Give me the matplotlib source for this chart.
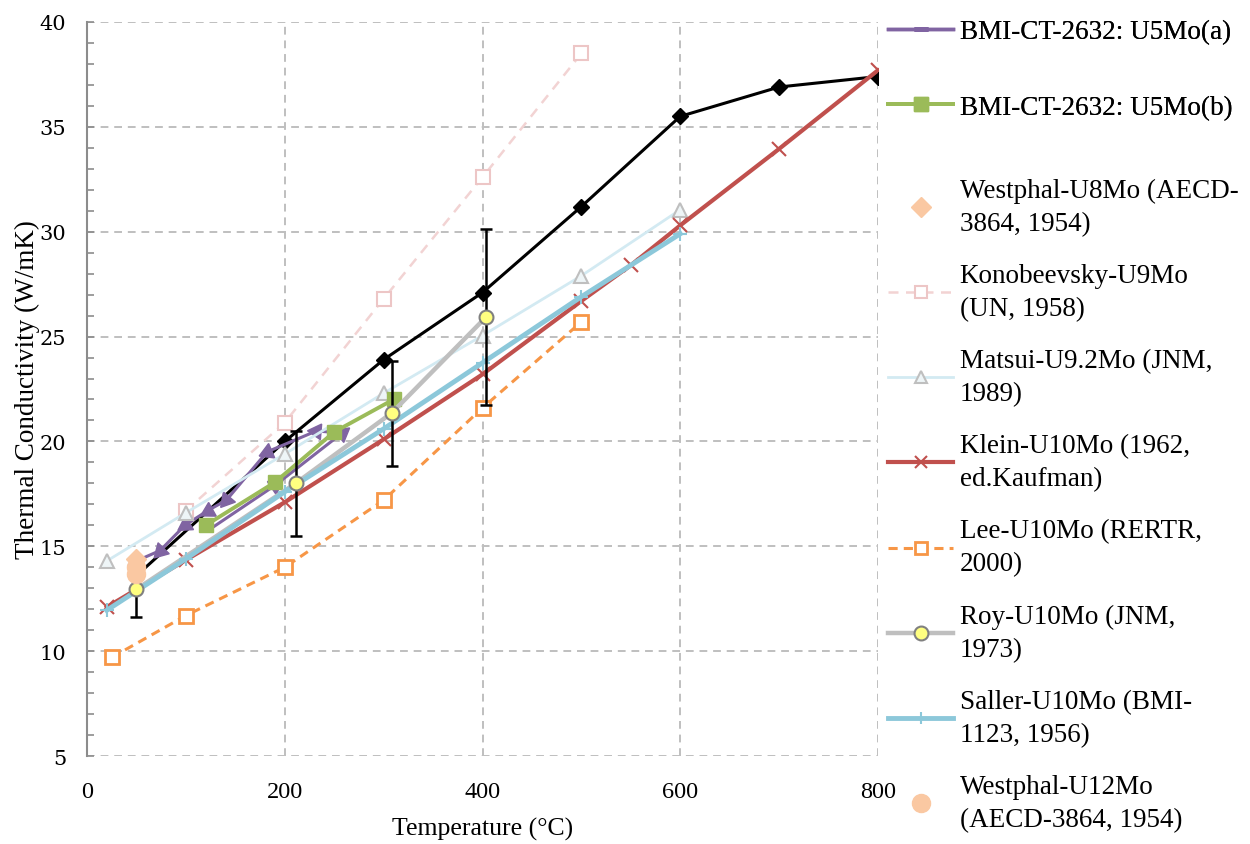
import numpy as np
import matplotlib.pyplot as plt
from matplotlib.lines import Line2D
from matplotlib.ticker import MultipleLocator

# ---- data ----
temp_ref = [50, 200, 300, 400, 500, 600, 700, 800]
k_ref = [13.6, 20.0, 23.9, 27.1, 31.2, 35.5, 36.9, 37.4]

temp_u5a = [127, 190, 258, 232, 182, 141, 122, 99, 74, 50]
k_u5a = [15.9, 17.9, 20.4, 20.5, 19.5, 17.2, 16.7, 16.0, 14.8, 14.3]

temp_u5b = [120, 190, 250, 310]
k_u5b = [16.0, 18.05, 20.45, 22.0]

temp_w8 = [50]
k_w8 = [14.4]

temp_kono = [100, 200, 300, 400, 500]
k_kono = [16.7, 20.9, 26.8, 32.6, 38.5]

temp_matsui = [20, 100, 200, 300, 400, 500, 600]
k_matsui = [14.3, 16.6, 19.4, 22.3, 25.05, 27.9, 31.05]

temp_klein = [20, 100, 200, 300, 400, 500, 550, 600, 700, 800]
k_klein = [12.1, 14.35, 17.1, 20.1, 23.2, 26.7, 28.4, 30.3, 33.95, 37.7]

temp_lee = [25, 100, 200, 300, 400, 500]
k_lee = [9.7, 11.7, 14.0, 17.2, 21.6, 25.7]

temp_roy = [50, 211, 308, 404]
k_roy = [12.95, 18.0, 21.35, 25.95]
err_roy = [1.3, 2.5, 2.5, 4.2]

temp_saller = [20, 100, 200, 300, 400, 500, 600]
k_saller = [11.95, 14.4, 17.6, 20.6, 23.75, 26.9, 29.9]

temp_w12 = [50, 50]
k_w12 = [14.0, 13.7]

labels = ['BMI-CT-2632: U5Mo(a)',
          'BMI-CT-2632: U5Mo(b)',
          'Westphal-U8Mo (AECD-\n3864, 1954)',
          'Konobeevsky-U9Mo\n(UN, 1958)',
          'Matsui-U9.2Mo (JNM,\n1989)',
          'Klein-U10Mo (1962,\ned.Kaufman)',
          'Lee-U10Mo (RERTR,\n2000)',
          'Roy-U10Mo (JNM,\n1973)',
          'Saller-U10Mo (BMI-\n1123, 1956)',
          'Westphal-U12Mo\n(AECD-3864, 1954)']

purple = '#8064A2'
green = '#9BBB59'
peach = '#FAC8A2'
pink = '#F2D3D3'
pale_blue = '#D3EAF2'
red = '#C0504D'
orange = '#F79646'
grey = '#BFBFBF'
blue = '#8CC8DA'

serif = 'Liberation Serif'

fig = plt.figure(figsize=(12.5, 8.45), dpi=100)
ax = fig.add_axes([0.0696, 0.1041, 0.6328, 0.8687])
ax.set_xlim(0, 800)
ax.set_ylim(5, 40)

ax.grid(True, color=grey, ls=(0, (4, 3)), lw=1.4, zorder=0)
ax.set_axisbelow(True)
ax.xaxis.set_major_locator(MultipleLocator(200))
ax.yaxis.set_major_locator(MultipleLocator(5))
ax.yaxis.set_minor_locator(MultipleLocator(1))
ax.get_ygridlines()[0].set_visible(False)
for s in ['top', 'right', 'bottom']:
    ax.spines[s].set_visible(False)
ax.spines['left'].set_color('#8C8C8C')
ax.spines['left'].set_linewidth(1.5)
ax.tick_params(axis='y', which='both', direction='in', length=5, width=1.2,
               color='#8C8C8C', pad=15, labelsize=15,
               labelfontfamily='DejaVu Serif')
ax.tick_params(axis='x', length=0, pad=18, labelsize=17.5, labelfontfamily=serif)

ax.set_xlabel('Temperature (°C)', family=serif, fontsize=18.5, labelpad=11)
ax.set_ylabel('Thermal Conductivity (W/mK)', family=serif, fontsize=19.5)
ax.yaxis.set_label_coords(-0.059, 0.5)

# reference curve (not in legend)
ax.plot(temp_ref, k_ref, color='black', lw=2.2, marker='D', ms=8, zorder=3)

# U5Mo(a): line with arrow heads along the path
ax.plot(temp_u5a, k_u5a, color=purple, lw=2.2, zorder=4)
fig.canvas.draw()
pts = ax.transData.transform(np.column_stack([temp_u5a, k_u5a]))
for i in range(1, len(temp_u5a)):
    dx, dy = pts[i] - pts[i - 1]
    rot = np.degrees(np.arctan2(dy, dx)) - 90
    ax.plot(temp_u5a[i], k_u5a[i], ls='none', marker=(3, 0, rot), ms=13,
            color=purple, zorder=4)

ax.plot(temp_u5b, k_u5b, color=green, lw=2.8, marker='s', ms=10, zorder=5)
ax.plot(temp_w8, k_w8, ls='none', marker='D', ms=10, color=peach, zorder=9)
ax.plot(temp_kono, k_kono, color=pink, lw=1.8, ls=(0, (4, 3)), marker='s', ms=10,
        mfc='white', mec='#EDC6C6', mew=1.5, zorder=4)
ax.plot(temp_matsui, k_matsui, color=pale_blue, lw=2.0, marker='^', ms=10,
        mfc='#EEF5F7', mec=grey, mew=1.5, zorder=4)
ax.plot(temp_klein, k_klein, color=red, lw=3.0, marker='x', ms=10, mew=1.5, zorder=5)
ax.plot(temp_lee, k_lee, color=orange, lw=2.2, ls=(0, (3, 2)), marker='s', ms=10,
        mfc='white', mec=orange, mew=2, zorder=5)
ax.plot(temp_roy, k_roy, color=grey, lw=3.2, zorder=5)
ax.errorbar(temp_roy, k_roy, yerr=err_roy, fmt='none', ecolor='black', elinewidth=1.8,
            capsize=4.5, capthick=1.8, zorder=8)
ax.plot(temp_roy, k_roy, ls='none', marker='o', ms=10, mfc='#FFFF80', mec='#808080',
        mew=1.5, zorder=8)
ax.plot(temp_saller, k_saller, color=blue, lw=3.5, marker='+', ms=10, mew=1.5, zorder=6)
ax.plot(temp_w12, k_w12, ls='none', marker='o', ms=13, color=peach, zorder=9)

# legend handles
h = [Line2D([], [], color=purple, lw=2.5, marker='_', ms=10, mew=3.5),
     Line2D([], [], color=green, lw=2.8, marker='s', ms=10),
     Line2D([], [], ls='none', marker='D', ms=10, color=peach),
     Line2D([], [], color=pink, lw=1.8, ls=(0, (4, 3)), marker='s', ms=9,
            mfc='white', mec='#EDC6C6', mew=1.5),
     Line2D([], [], color=pale_blue, lw=2.0, marker='^', ms=9, mfc='#EEF5F7',
            mec=grey, mew=1.5),
     Line2D([], [], color=red, lw=3.0, marker='x', ms=9, mew=1.5),
     Line2D([], [], color=orange, lw=2.2, ls=(0, (3, 2)), marker='s', ms=9,
            mfc='white', mec=orange, mew=2),
     Line2D([], [], color=grey, lw=3.2, marker='o', ms=10, mfc='#FFFF80',
            mec='#808080', mew=1.5),
     Line2D([], [], color=blue, lw=3.5, marker='+', ms=9, mew=1.5),
     Line2D([], [], ls='none', marker='o', ms=13, color=peach)]

leg_kw = dict(loc='upper left', frameon=False, borderpad=0, borderaxespad=0,
              handlelength=2.4, handletextpad=0.25,
              prop={'family': serif, 'size': 19.5})
leg1 = fig.legend(h[:2], labels[:2], bbox_to_anchor=(888 / 1250, 1 - 20 / 845),
                  labelspacing=1.87, **leg_kw)
leg2 = fig.legend(h[2:], labels[2:], bbox_to_anchor=(888 / 1250, 1 - 179 / 845),
                  labelspacing=1.0, **leg_kw)
for t in leg2.get_texts():
    t.set_linespacing(1.42)
fig.add_artist(leg1)

fig.savefig('out.png', dpi=100)
